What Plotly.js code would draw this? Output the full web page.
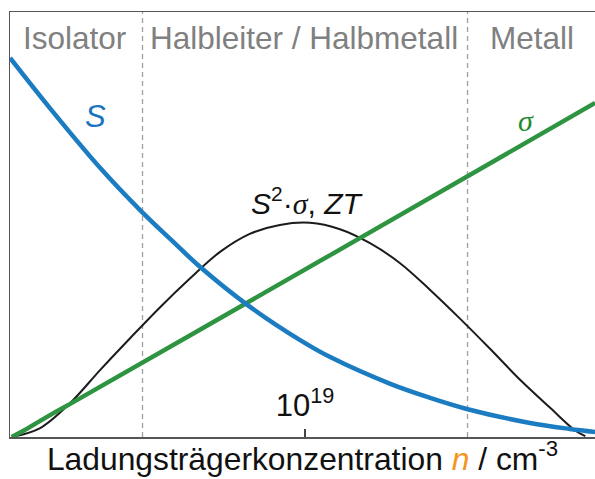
<!DOCTYPE html>
<html>
<head>
<meta charset="utf-8">
<script src="https://cdn.plot.ly/plotly-3.0.1.min.js"></script>
<style>
  html, body { margin: 0; padding: 0; background: #fff; }
  #chart { width: 595px; height: 479px; }
</style>
</head>
<body>
<div id="chart"></div>
<script>
// Horizontal position: log10 of the carrier concentration n (cm^-3).
// Vertical position: arbitrary units (schematic).

// Seebeck coefficient S
const seebeckLogN = [15.37, 15.86, 16.48, 16.97, 17.34, 17.71, 18.29, 18.94, 19.31, 20.05, 20.54, 20.99, 21.77, 22.26, 22.57];
const seebeckVal  = [89.2, 77.4, 63.3, 53.4, 46.6, 40.0, 31.1, 22.8, 18.8, 12.5, 9.2, 6.6, 3.3, 1.9, 1.2];

// Electrical conductivity sigma
const sigmaLogN = [15.39, 15.55, 15.74, 15.92, 16.11, 19.31, 22.57];
const sigmaVal  = [0.0, 1.65, 3.8, 5.8, 7.8, 42.8, 78.6];

// Power factor S^2*sigma / figure of merit ZT
const pfLogN = [15.39, 15.74, 16.11, 16.48, 16.85, 17.22, 17.59, 17.95, 18.32, 18.69, 19.06, 19.43, 19.80, 20.17, 20.54, 20.91, 21.28, 21.65, 22.02, 22.32, 22.45];
const pfVal  = [0.0, 2.1, 8.0, 15.8, 23.3, 30.6, 37.4, 43.5, 47.8, 49.9, 50.4, 48.9, 45.6, 40.9, 34.6, 27.8, 20.7, 13.4, 6.8, 1.6, 0.2];

// Axis tick and regime boundaries
const tickLogN = [19];
const tickText = ['10<sup>19</sup>'];
const regimeBounds = [17, 21];
const regimeNames = ['Isolator', 'Halbleiter / Halbmetall', 'Metall'];
const regimeCenters = [16.16, 18.99, 21.79];

const X_RANGE = [15.369, 22.569];
const Y_RANGE = [0, 100];

const traces = [
  { x: pfLogN, y: pfVal, mode: 'lines', line: { color: '#1c1c1c', width: 2, shape: 'spline', smoothing: 1 }, hoverinfo: 'skip' },
  { x: sigmaLogN, y: sigmaVal, mode: 'lines', line: { color: '#2e9442', width: 4.5, shape: 'spline', smoothing: 0.5 }, hoverinfo: 'skip' },
  { x: seebeckLogN, y: seebeckVal, mode: 'lines', line: { color: '#1b7cc1', width: 4.5, shape: 'spline', smoothing: 1 }, hoverinfo: 'skip' }
];

const shapes = regimeBounds.map(b => ({
  type: 'line', xref: 'x', yref: 'paper', x0: b, x1: b, y0: 0, y1: 1,
  line: { color: '#a0a0a0', width: 1.3, dash: '5px,4px' }, layer: 'below'
}));

const annotations = regimeNames.map((name, i) => ({
  text: name, x: regimeCenters[i], xref: 'x', y: 0.94, yref: 'paper',
  showarrow: false, xanchor: 'center', yanchor: 'middle',
  font: { family: 'Liberation Sans, Arial, sans-serif', size: 31.5, color: '#808080' }
}));

annotations.push(
  { text: '<i>S</i>', x: 16.42, xref: 'x', y: 0.755, yref: 'paper', showarrow: false,
    xanchor: 'center', yanchor: 'middle',
    font: { family: 'Liberation Sans, Arial, sans-serif', size: 31, color: '#1b74c0' } },
  { text: '<i>σ</i>', x: 21.72, xref: 'x', y: 0.745, yref: 'paper', showarrow: false,
    xanchor: 'center', yanchor: 'middle',
    font: { family: 'Liberation Serif, Times New Roman, serif', size: 30, color: '#1e8c2c' } },
  { text: '<i>S</i><sup>2</sup>·<i><span style="font-family:Liberation Serif">σ</span></i>, <i>ZT</i>',
    x: 19.02, xref: 'x', y: 0.555, yref: 'paper', showarrow: false,
    xanchor: 'center', yanchor: 'middle',
    font: { family: 'Liberation Sans, Arial, sans-serif', size: 30, color: '#111' } }
);

const layout = {
  width: 595, height: 479,
  margin: { l: 10, r: 0, t: 12, b: 42, pad: 0 },
  paper_bgcolor: '#fff', plot_bgcolor: '#fff',
  showlegend: false,
  xaxis: {
    range: X_RANGE, showgrid: false, zeroline: false,
    showline: true, linecolor: '#555', linewidth: 1.5, mirror: true,
    tickvals: tickLogN, ticktext: tickText,
    ticks: 'inside', ticklen: 8, tickwidth: 1.3, tickcolor: '#444',
    ticklabelposition: 'inside', ticklabelstandoff: 10,
    tickfont: { family: 'Liberation Sans, Arial, sans-serif', size: 31, color: '#111' },
    title: {
      text: 'Ladungsträgerkonzentration <i><span style="color:#f7941d">n</span></i> / cm<sup>-3</sup>',
      font: { family: 'Liberation Sans, Arial, sans-serif', size: 31.8, color: '#111' },
      standoff: 25
    },
    fixedrange: true
  },
  yaxis: {
    range: Y_RANGE, showgrid: false, zeroline: false,
    showline: true, linecolor: '#555', linewidth: 1.5,
    showticklabels: false, ticks: '', fixedrange: true
  },
  shapes: shapes,
  annotations: annotations
};

Plotly.newPlot('chart', traces, layout, { displayModeBar: false, staticPlot: true });
</script>
</body>
</html>
